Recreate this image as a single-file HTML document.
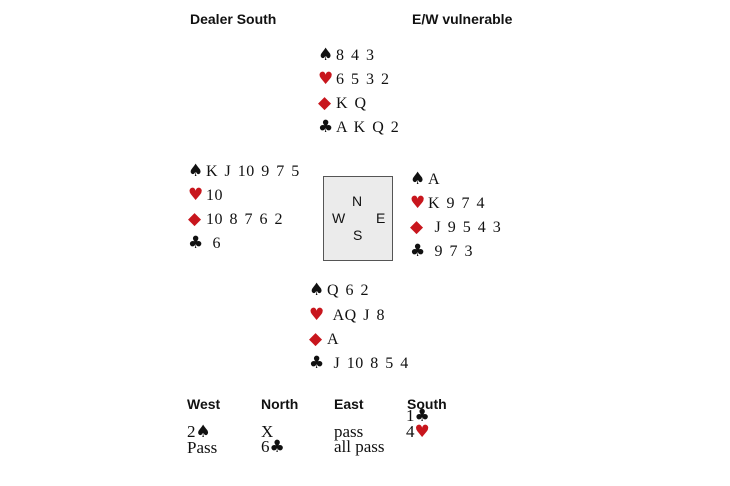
<!DOCTYPE html>
<html><head><meta charset="utf-8"><style>
body{margin:0;width:730px;height:486px;background:#fff;position:relative;overflow:hidden;font-family:"Liberation Serif",serif;color:#111}
.l{position:absolute;font-size:16px;line-height:20px;white-space:pre;letter-spacing:0.5px;word-spacing:2px}
.s{font-size:17px;display:inline-block;width:18px;font-family:"DejaVu Sans",sans-serif}
.r{color:#c8161d}
.h{position:absolute;font-family:"Liberation Sans",sans-serif;font-weight:bold;font-size:14px;line-height:16px}
.b{position:absolute;font-size:17px;line-height:15px;white-space:pre}
.bs{font-family:"DejaVu Sans",sans-serif;font-size:17px}
.box{position:absolute;left:323px;top:176px;width:68px;height:83px;background:#ebebeb;border:1px solid #555}
.c{position:absolute;font-family:"Liberation Sans",sans-serif;font-size:14px}
</style></head><body>
<div class="h" style="left:190px;top:11px">Dealer South</div>
<div class="h" style="left:412px;top:11px">E/W vulnerable</div>

<div class="l" style="left:318px;top:45px"><span class="s">♠</span>8 4 3</div>
<div class="l" style="left:318px;top:69px"><span class="s r">♥</span>6 5 3 2</div>
<div class="l" style="left:318px;top:93px"><span class="s r">◆</span>K Q</div>
<div class="l" style="left:318px;top:117px"><span class="s">♣</span>A K Q 2</div>

<div class="l" style="left:188px;top:161px"><span class="s">♠</span>K J 10 9 7 5</div>
<div class="l" style="left:188px;top:185px"><span class="s r">♥</span>10</div>
<div class="l" style="left:188px;top:209px"><span class="s r">◆</span>10 8 7 6 2</div>
<div class="l" style="left:188px;top:233px"><span class="s">♣</span> 6</div>

<div class="box"></div>
<div class="c" style="left:352px;top:193px">N</div>
<div class="c" style="left:332px;top:210px">W</div>
<div class="c" style="left:376px;top:210px">E</div>
<div class="c" style="left:353px;top:227px">S</div>

<div class="l" style="left:410px;top:169px"><span class="s">♠</span>A</div>
<div class="l" style="left:410px;top:193px"><span class="s r">♥</span>K 9 7 4</div>
<div class="l" style="left:410px;top:217px"><span class="s r">◆</span> J 9 5 4 3</div>
<div class="l" style="left:410px;top:241px"><span class="s">♣</span> 9 7 3</div>

<div class="l" style="left:309px;top:280px"><span class="s">♠</span>Q 6 2</div>
<div class="l" style="left:309px;top:305px"><span class="s r">♥</span> AQ J 8</div>
<div class="l" style="left:309px;top:329px"><span class="s r">◆</span>A</div>
<div class="l" style="left:309px;top:353px"><span class="s">♣</span> J 10 8 5 4</div>

<div class="h" style="left:187px;top:396px">West</div>
<div class="h" style="left:261px;top:396px">North</div>
<div class="h" style="left:334px;top:396px">East</div>
<div class="h" style="left:407px;top:396px">South</div>

<div class="b" style="left:187px;top:424px">2<span class="bs">♠</span>
Pass</div>
<div class="b" style="left:261px;top:424px">X
6<span class="bs">♣</span></div>
<div class="b" style="left:334px;top:424px">pass
all pass</div>
<div class="b" style="left:406px;top:408px">1<span class="bs">♣</span>
4<span class="bs r">♥</span></div>
</body></html>
